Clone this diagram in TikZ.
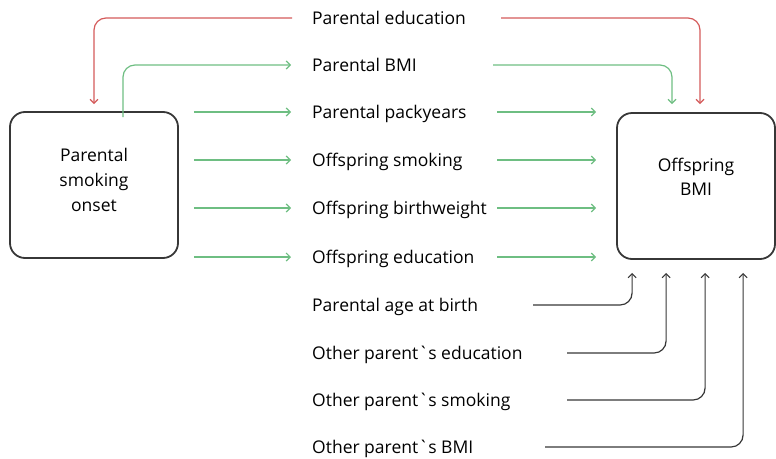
\documentclass[tikz,border=0pt]{standalone}
\usepackage{fontspec}
\setmainfont{Open Sans}
\usetikzlibrary{arrows.meta,positioning}
\definecolor{edred}{RGB}{212,90,90}
\definecolor{pathgreen}{RGB}{110,190,130}
\definecolor{linegray}{RGB}{55,55,55}
\tikzset{
  factor/.style={anchor=west, inner sep=0pt, text height=12.5pt, text depth=0pt},
  bigbox/.style={draw=linegray, line width=1.8pt, rounded corners=15pt},
  boxtext/.style={align=center, inner sep=0pt},
  link/.style={line width=1.2pt, rounded corners=12pt, -{Straight Barb[length=4pt,width=8pt]}},
  redlink/.style={link, draw=edred},
  greenlink/.style={link, draw=pathgreen},
  graylink/.style={link, draw=linegray}
}
\begin{document}
\begin{tikzpicture}[x=1pt, y=-1pt, font=\fontsize{17.5}{21}\selectfont]
    \useasboundingbox (0,0) rectangle (776,458);
    % the two boxes
    \node[bigbox, minimum width=168pt, minimum height=146pt] (smk) at (94,185) {};
    \node[bigbox, minimum width=158pt, minimum height=146pt] (out) at (696,186) {};
    \node[boxtext, font=\fontsize{17.5}{25}\selectfont] (smktext) at ([yshift=5pt]smk.center) {Parental\\smoking\\onset};
    \node[boxtext, font=\fontsize{17.5}{23.5}\selectfont] (outtext) at ([yshift=9pt]out.center) {Offspring\\BMI};
    % factors
    \node[factor] (pe) at (312,18) {Parental education};
    \node[factor] (pb) at (312,65) {Parental BMI};
    \node[factor] (pp) at (312,112) {Parental packyears};
    \node[factor] (os) at (312,160) {Offspring smoking};
    \node[factor] (ob) at (312,208) {Offspring birthweight};
    \node[factor] (oe) at (312,257) {Offspring education};
    \node[factor] (pa) at (312,305) {Parental age at birth};
    \node[factor] (ped) at (312,353) {Other parent\textasciigrave s education};
    \node[factor] (psm) at (312,400) {Other parent\textasciigrave s smoking};
    \node[factor] (pbmi) at (312,447) {Other parent\textasciigrave s BMI};
    % confounders on top
    \draw[redlink, shorten >=7pt] ([xshift=-20pt]pe.west) -| (smk.north);
    \draw[redlink, shorten >=8pt] ([xshift=189pt]pe.west) -| ([xshift=4pt]out.north);
    \draw[greenlink] ([xshift=29pt,yshift=-6pt]smk.north) |- ([xshift=-21pt]pb.west);
    \draw[greenlink, shorten >=8pt] ([xshift=181pt]pb.west) -| ([xshift=-24pt]out.north);
    % mediators
    \foreach \row in {pp,os,ob,oe} {
        \draw[greenlink] ([xshift=15pt]smk.east |- \row.west) -- ([xshift=-21pt]\row.west);
        \draw[greenlink] ([xshift=185pt]\row.west) -- ([xshift=-20pt]out.west |- \row.west);
    }
    % other covariates
    \draw[graylink, shorten >=13pt] ([xshift=221pt]pa.west) -| ([xshift=16pt]out.south west);
    \draw[graylink, shorten >=13pt] ([xshift=255pt]ped.west) -| ([xshift=50pt]out.south west);
    \draw[graylink, shorten >=13pt] ([xshift=255pt]psm.west) -| ([xshift=89pt]out.south west);
    \draw[graylink, shorten >=13pt] ([xshift=233pt]pbmi.west) -| ([xshift=127pt]out.south west);
\end{tikzpicture}
\end{document}
